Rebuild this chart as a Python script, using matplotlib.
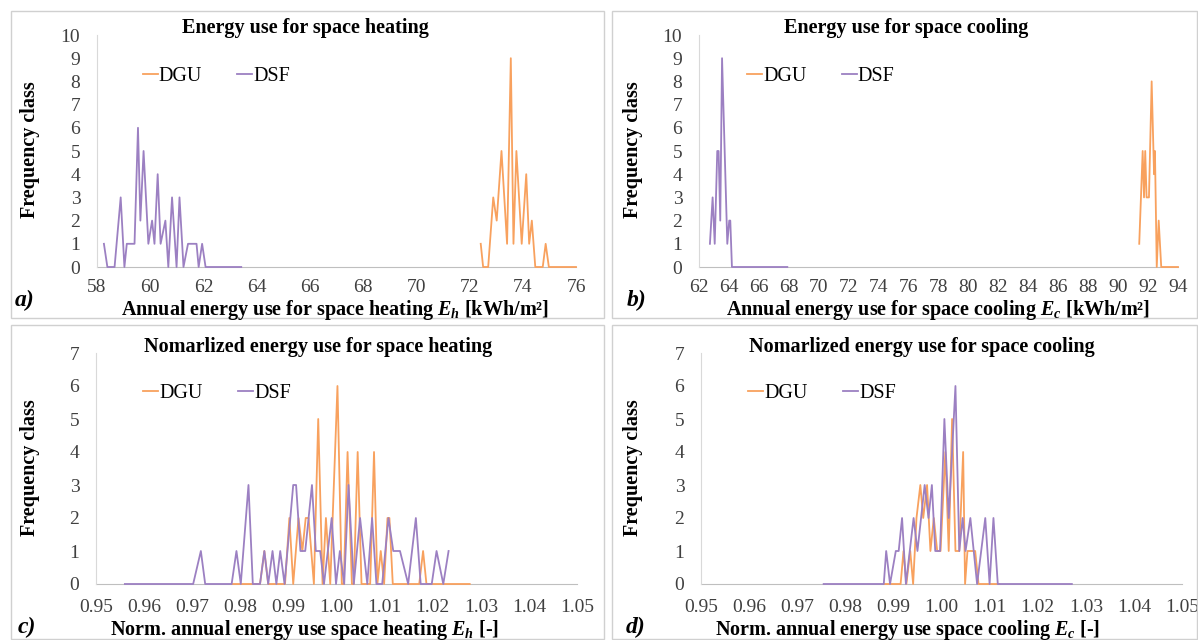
import numpy as np
import matplotlib
matplotlib.use('Agg')
import matplotlib.pyplot as plt
from matplotlib.patches import Rectangle

plt.rcParams['font.family'] = ['Liberation Serif', 'DejaVu Serif']
plt.rcParams['mathtext.fontset'] = 'custom'
plt.rcParams['mathtext.it'] = 'Liberation Serif:italic:bold'
plt.rcParams['mathtext.rm'] = 'Liberation Serif:bold'
plt.rcParams['mathtext.bf'] = 'Liberation Serif:bold'

ORANGE = '#F8A15E'
PURPLE = '#9C80C2'

# a) annual energy use for space heating [kWh/m2]
heat_dgu_x = [72.42, 72.51, 72.60, 72.70, 72.89, 73.02, 73.20, 73.41, 73.55, 73.65, 73.76,
              73.96, 74.13, 74.24, 74.34, 74.47, 74.60, 74.75, 74.86, 74.98, 75.50, 76.00]
heat_dgu_y = [1, 0, 0, 0, 3, 2, 5, 1, 9, 1, 5, 1, 4, 1, 2, 0, 0, 0, 1, 0, 0, 0]
heat_dsf_x = [58.26, 58.39, 58.53, 58.66, 58.89, 59.03, 59.12, 59.25, 59.41, 59.54, 59.63,
              59.75, 59.93, 60.07, 60.16, 60.28, 60.39, 60.57, 60.68, 60.82, 60.99, 61.10,
              61.25, 61.42, 61.55, 61.74, 61.82, 61.95, 62.08, 62.50, 63.00, 63.42]
heat_dsf_y = [1, 0, 0, 0, 3, 0, 1, 1, 1, 6, 2, 5, 1, 2, 1, 4, 1, 2, 0, 3, 0, 3,
              0, 1, 1, 1, 0, 1, 0, 0, 0, 0]

# b) annual energy use for space cooling [kWh/m2]
cool_dgu_x = [91.41, 91.64, 91.73, 91.81, 91.90, 92.06, 92.24, 92.40, 92.46, 92.58, 92.71,
              92.88, 93.40, 94.00]
cool_dgu_y = [1, 5, 3, 5, 3, 3, 8, 4, 5, 0, 2, 0, 0, 0]
cool_dsf_x = [62.73, 62.91, 63.05, 63.22, 63.31, 63.42, 63.54, 63.89, 64.02, 64.09, 64.20,
              66.00, 67.90]
cool_dsf_y = [1, 3, 1, 5, 5, 2, 9, 1, 2, 2, 0, 0, 0]

# c) normalised heating
nheat_dgu_x = [0.9782, 0.9841, 0.9850, 0.9858, 0.9893, 0.9902, 0.9910, 0.9921, 0.9929, 0.9936,
               0.9942, 0.9953, 0.9962, 0.9971, 0.9978, 0.9987, 1.0002, 1.0011, 1.0015, 1.0023,
               1.0032, 1.0036, 1.0044, 1.0052, 1.0070, 1.0078, 1.0085, 1.0092, 1.0099, 1.0106,
               1.0110, 1.0117, 1.0172, 1.0180, 1.0187, 1.0277]
nheat_dgu_y = [0, 0, 1, 0, 0, 2, 0, 2, 1, 2, 2, 0, 5, 0, 2, 0, 6, 0, 0, 4,
               0, 0, 4, 0, 0, 4, 0, 1, 0, 2, 2, 0, 0, 1, 0, 0]
nheat_dsf_x = [0.9560, 0.9702, 0.9718, 0.9727, 0.9765, 0.9782, 0.9792, 0.9801, 0.9817, 0.9826,
               0.9841, 0.9850, 0.9858, 0.9867, 0.9875, 0.9883, 0.9892, 0.9910, 0.9916, 0.9925,
               0.9935, 0.9949, 0.9957, 0.9966, 0.9974, 0.9990, 0.9999, 1.0007, 1.0016, 1.0025,
               1.0036, 1.0049, 1.0064, 1.0074, 1.0083, 1.0095, 1.0108, 1.0118, 1.0132, 1.0149,
               1.0165, 1.0175, 1.0198, 1.0208, 1.0222, 1.0233]
nheat_dsf_y = [0, 0, 1, 0, 0, 0, 1, 0, 3, 0, 0, 1, 0, 1, 0, 1, 0, 3, 3, 1,
               1, 3, 1, 1, 0, 2, 0, 1, 0, 3, 0, 2, 0, 2, 0, 0, 2, 1, 1, 0,
               2, 0, 0, 1, 0, 1]

# d) normalised cooling
ncool_dgu_x = [0.9880, 0.9915, 0.9921, 0.9927, 0.9935, 0.9941, 0.9948, 0.9956, 0.9962, 0.9970,
               0.9977, 0.9984, 0.9991, 0.9998, 1.0008, 1.0015, 1.0022, 1.0029, 1.0037, 1.0045,
               1.0049, 1.0054, 1.0070, 1.0077, 1.0120]
ncool_dgu_y = [0, 0, 1, 0, 1, 0, 2, 3, 2, 3, 1, 2, 1, 1, 4, 1, 5, 1, 1, 4,
               0, 1, 1, 0, 0]
ncool_dsf_x = [0.9755, 0.9880, 0.9885, 0.9893, 0.9905, 0.9911, 0.9918, 0.9926, 0.9942, 0.9950,
               0.9965, 0.9973, 0.9980, 0.9987, 0.9997, 1.0006, 1.0015, 1.0029, 1.0037, 1.0044,
               1.0050, 1.0060, 1.0074, 1.0091, 1.0100, 1.0108, 1.0117, 1.0271]
ncool_dsf_y = [0, 0, 1, 0, 1, 1, 2, 0, 2, 1, 3, 2, 3, 1, 1, 5, 2, 6, 1, 2,
               1, 2, 0, 2, 0, 2, 0, 0]

ticks_heat = [58, 60, 62, 64, 66, 68, 70, 72, 74, 76]
ticks_cool = list(range(62, 95, 2))
ticks_norm = [0.95, 0.96, 0.97, 0.98, 0.99, 1.00, 1.01, 1.02, 1.03, 1.04, 1.05]

W, H = 1198, 640
fig = plt.figure(figsize=(W / 100, H / 100), dpi=100)


def px(x0, y_top, x1, y_bot):
    # pixel box -> figure fraction [left, bottom, width, height]
    return [x0 / W, 1 - y_bot / H, (x1 - x0) / W, (y_bot - y_top) / H]


def panel(rect, dgu_x, dgu_y, dsf_x, dsf_y, xlim, xticks, xfmt, ymax, xpad, leg_x, leg_y):
    ax = fig.add_axes(rect)
    ax.plot(dgu_x, dgu_y, color=ORANGE, lw=1.3, label='DGU', clip_on=False)
    ax.plot(dsf_x, dsf_y, color=PURPLE, lw=1.3, label='DSF', clip_on=False)
    ax.set_xlim(*xlim)
    ax.set_ylim(0, ymax)
    ax.set_xticks(xticks)
    ax.set_xticklabels([xfmt.format(t) for t in xticks])
    ax.set_yticks(range(0, ymax + 1))
    ax.tick_params(length=0, labelsize=14, colors='#404040')
    ax.tick_params(axis='x', pad=xpad)
    ax.tick_params(axis='y', pad=12)
    for s in ['top', 'right']:
        ax.spines[s].set_visible(False)
    ax.spines['left'].set_color('#D9D9D9')
    ax.spines['bottom'].set_color('#BFBFBF')
    ax.spines['bottom'].set_zorder(0)
    ax.legend(loc='center left', bbox_to_anchor=(leg_x, leg_y), ncol=2, frameon=False,
              fontsize=14.5, handlelength=0.75, handletextpad=0.05, columnspacing=1.75,
              borderpad=0, borderaxespad=0)
    return ax


panel(px(97, 35, 576, 267), heat_dgu_x, heat_dgu_y, heat_dsf_x, heat_dsf_y,
      (58, 76), ticks_heat, '{:d}', 10, 9, 0.095, 0.82)
panel(px(699, 35, 1178, 267), cool_dgu_x, cool_dgu_y, cool_dsf_x, cool_dsf_y,
      (62, 94), ticks_cool, '{:d}', 10, 9, 0.10, 0.82)
panel(px(96, 353, 577, 584), nheat_dgu_x, nheat_dgu_y, nheat_dsf_x, nheat_dsf_y,
      (0.95, 1.05), ticks_norm, '{:.2f}', 7, 11, 0.098, 0.825)
panel(px(701, 353, 1182, 584), ncool_dgu_x, ncool_dgu_y, ncool_dsf_x, ncool_dsf_y,
      (0.95, 1.05), ticks_norm, '{:.2f}', 7, 11, 0.098, 0.825)

# panel frames
for x0, y0, x1, y1 in [(11, 11, 604, 318), (612, 11, 1197, 318),
                       (11, 325, 604, 639), (612, 325, 1197, 639)]:
    fig.patches.append(Rectangle((x0 / W, 1 - y1 / H), (x1 - x0) / W, (y1 - y0) / H,
                                 transform=fig.transFigure, fill=False,
                                 edgecolor='#D0D0D0', lw=1))

bold = dict(fontweight='bold', ha='center', va='center', fontsize=14.5)
fig.text(305 / W, 1 - 28 / H, 'Energy use for space heating', **bold)
fig.text(906 / W, 1 - 28 / H, 'Energy use for space cooling', **bold)
fig.text(318 / W, 1 - 347 / H, 'Nomarlized energy use for space heating', **bold)
fig.text(922 / W, 1 - 347 / H, 'Nomarlized energy use for space cooling', **bold)

fig.text(335 / W, 1 - 310 / H, r'Annual energy use for space heating $E_h$ [kWh/m²]', **bold)
fig.text(938 / W, 1 - 310 / H, r'Annual energy use for space cooling $E_c$ [kWh/m²]', **bold)
fig.text(305 / W, 1 - 630 / H, r'Norm. annual energy use space heating $E_h$ [-]', **bold)
fig.text(908 / W, 1 - 630 / H, r'Norm. annual energy use space cooling $E_c$ [-]', **bold)

for x, y in [(30, 150), (633, 150), (30, 468), (633, 468)]:
    fig.text(x / W, 1 - y / H, 'Frequency class', rotation=90, **bold)

letter = dict(fontweight='bold', fontstyle='italic', ha='center', va='center', fontsize=17)
fig.text(25 / W, 1 - 300 / H, 'a)', **letter)
fig.text(637 / W, 1 - 300 / H, 'b)', **letter)
fig.text(27 / W, 1 - 627 / H, 'c)', **letter)
fig.text(636 / W, 1 - 627 / H, 'd)', **letter)

fig.savefig('out.png', dpi=100)
